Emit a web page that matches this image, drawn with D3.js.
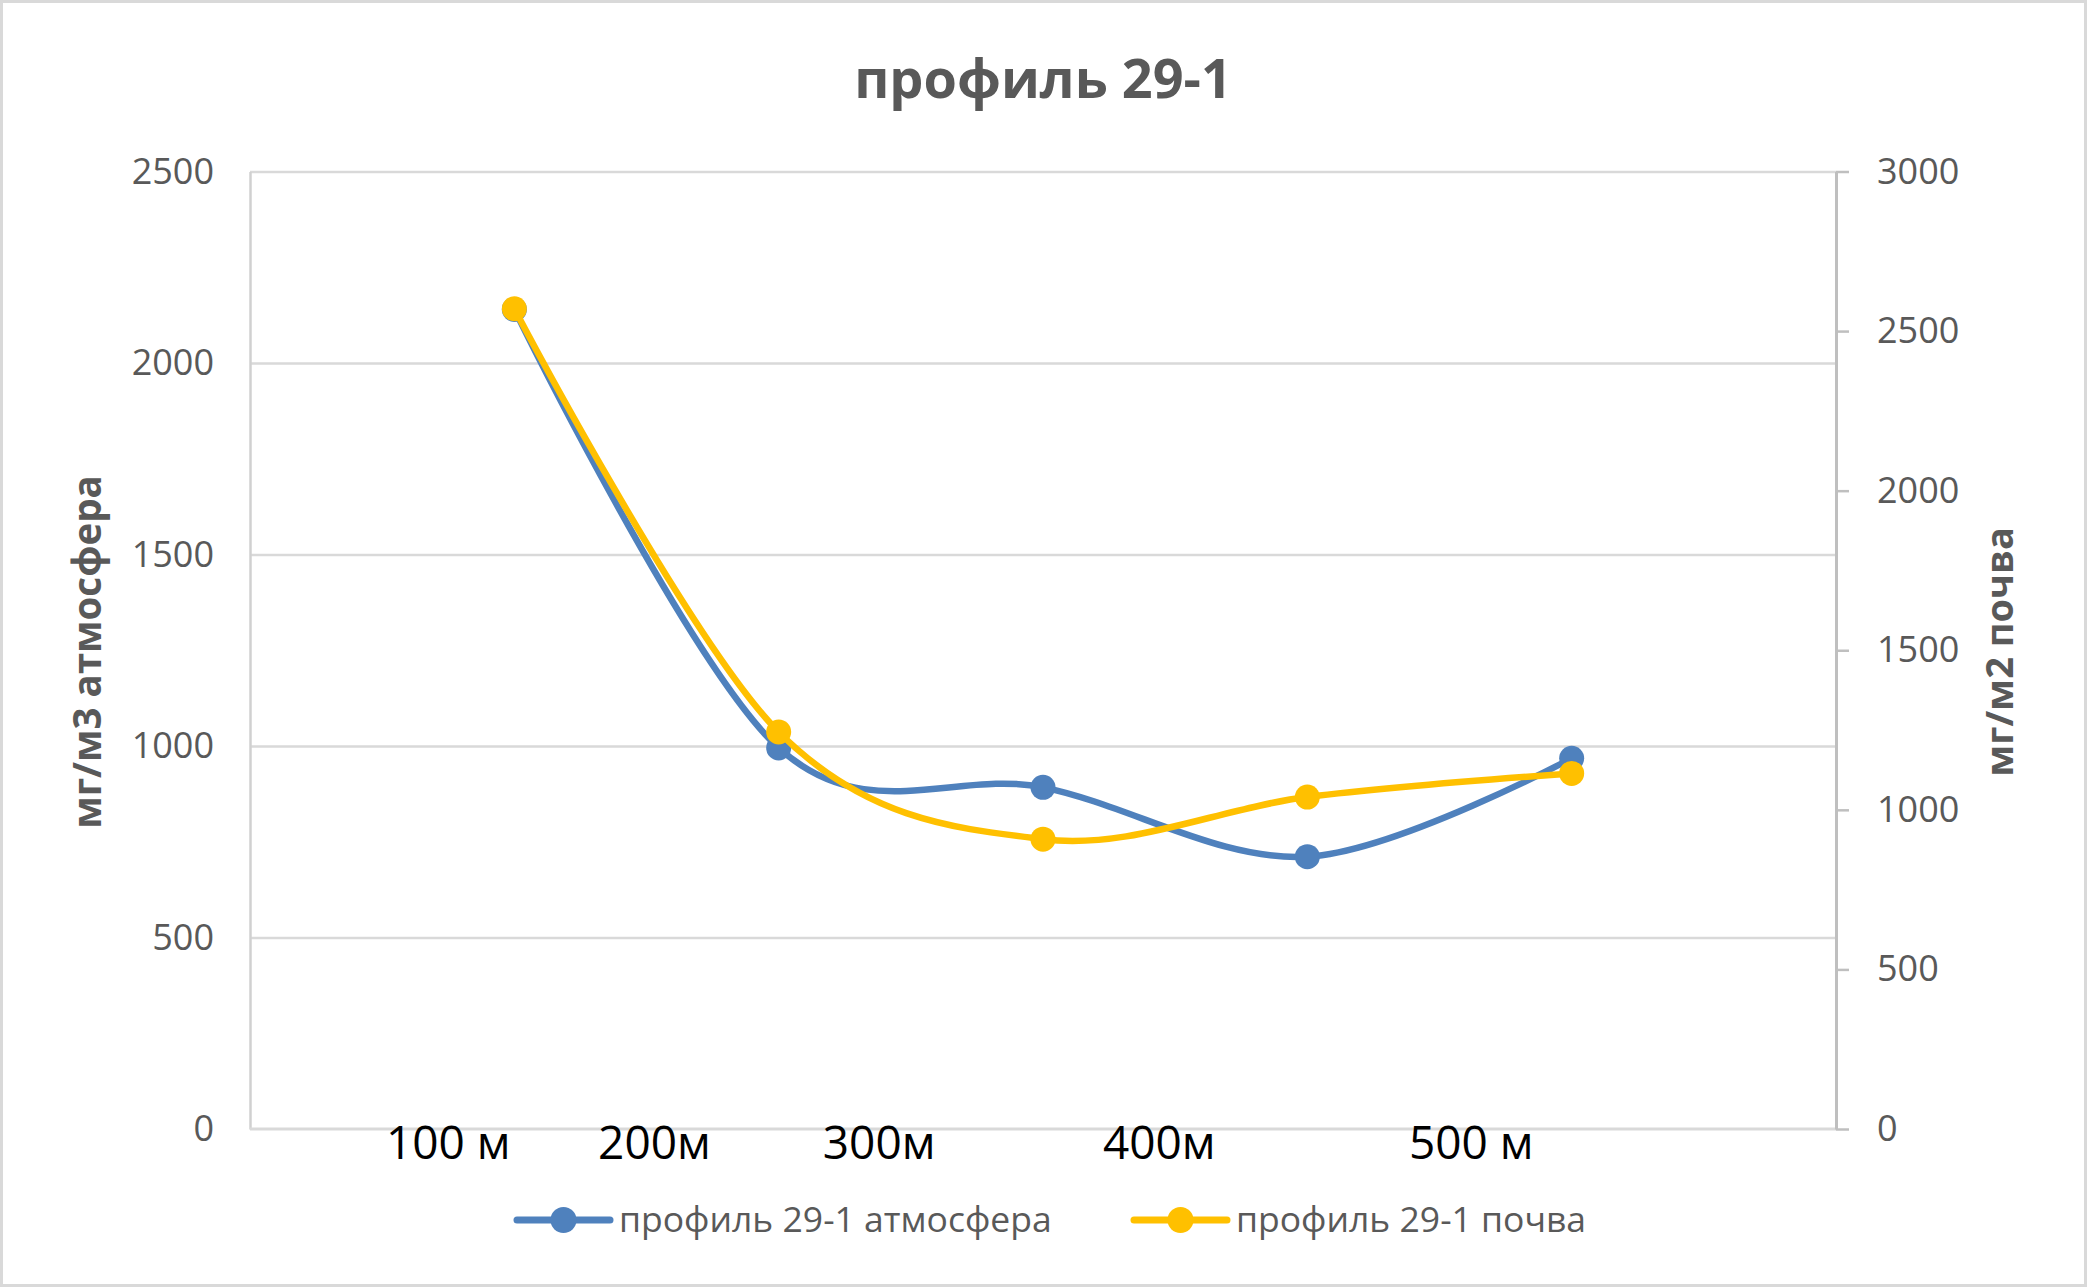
<!DOCTYPE html>
<html>
<head>
<meta charset="utf-8">
<script src="https://cdn.jsdelivr.net/npm/d3@7"></script>
<style>
  html, body { margin: 0; padding: 0; background: #fff; }
  svg { display: block; }
</style>
</head>
<body>
<svg id="chart" width="2087" height="1287"></svg>
<script>
// ---- data ----
const title = "профиль 29-1";
const categories = ["100 м", "200м", "300м", "400м", "500 м"];
const labelPos = [0.75, 1.53, 2.38, 3.44, 4.62];   // where the distance labels sit on the category scale
const pointPos = [1, 2, 3, 4, 5];                   // category positions of the measurements
const atmosphere = [2140, 995, 892, 711, 968];      // мг/м3 (left axis)
const soil = [2570, 1244, 908, 1040, 1114];         // мг/м2 (right axis)
const leftTicks = [0, 500, 1000, 1500, 2000, 2500];
const rightTicks = [0, 500, 1000, 1500, 2000, 2500, 3000];
const seriesNames = ["профиль 29-1 атмосфера", "профиль 29-1 почва"];
const leftTitle = "мг/м3 атмосфера";
const rightTitle = "мг/м2 почва";

// ---- layout ----
const W = 2087, H = 1287;
const plot = { left: 250, right: 1836, top: 171.5, bottom: 1129 };
const blue = "#4F81BD", yellow = "#FFC000", textGray = "#595959";
const font = "'Open Sans', 'Liberation Sans', sans-serif";
const fmt = d3.format("d");

const svg = d3.select("#chart");
svg.append("rect").attr("x", 1.5).attr("y", 1.5).attr("width", W - 3).attr("height", H - 3)
  .attr("fill", "#fff").attr("stroke", "#D9D9D9").attr("stroke-width", 3);

const x = d3.scaleLinear().domain([0, 6]).range([plot.left, plot.right]);
const yL = d3.scaleLinear().domain([0, 2500]).range([plot.bottom, plot.top]);
const yR = d3.scaleLinear().domain([0, 3000]).range([plot.bottom, plot.top]);

// gridlines
const grid = svg.append("g").attr("transform", `translate(${plot.left},0)`)
  .call(d3.axisLeft(yL).tickValues(leftTicks.slice(1)).tickSize(-(plot.right - plot.left)).tickFormat(""));
grid.select(".domain").remove();
grid.selectAll("line").attr("stroke", "#D9D9D9").attr("stroke-width", 2.5);

// left axis line + labels
const gL = svg.append("g").attr("transform", `translate(${plot.left},0)`)
  .call(d3.axisLeft(yL).tickValues(leftTicks).tickSize(0).tickPadding(36).tickFormat(fmt));
gL.select(".domain").attr("stroke", "#D0D0D0").attr("stroke-width", 2.5);
gL.selectAll("text").attr("font-family", font).attr("font-size", 36).attr("fill", textGray);

// bottom axis line
svg.append("line").attr("x1", plot.left).attr("x2", plot.right)
  .attr("y1", plot.bottom).attr("y2", plot.bottom)
  .attr("stroke", "#D9D9D9").attr("stroke-width", 3);

// right axis
const gR = svg.append("g").attr("transform", `translate(${plot.right},0)`)
  .call(d3.axisRight(yR).tickValues(rightTicks).tickSize(13).tickPadding(28).tickSizeOuter(0).tickFormat(fmt));
gR.select(".domain").attr("stroke", "#BFBFBF").attr("stroke-width", 3);
gR.selectAll("line").attr("stroke", "#BFBFBF").attr("stroke-width", 2.5);
gR.selectAll("text").attr("font-family", font).attr("font-size", 36).attr("fill", textGray);

// category labels
svg.append("g").selectAll("text").data(categories).join("text")
  .attr("x", (d, i) => x(labelPos[i])).attr("y", 1159)
  .attr("text-anchor", "middle").attr("font-family", font).attr("font-size", 46)
  .attr("fill", "#000").text(d => d);

// series
const curve = d3.curveCardinal.tension(0);
const series = [
  { name: seriesNames[0], values: atmosphere, y: yL, color: blue },
  { name: seriesNames[1], values: soil, y: yR, color: yellow }
];
series.forEach(s => {
  const line = d3.line().x((d, i) => x(pointPos[i])).y(d => s.y(d)).curve(curve);
  svg.append("path").datum(s.values).attr("d", line)
    .attr("fill", "none").attr("stroke", s.color).attr("stroke-width", 6.5)
    .attr("stroke-linecap", "round");
  svg.append("g").selectAll("circle").data(s.values).join("circle")
    .attr("cx", (d, i) => x(pointPos[i])).attr("cy", d => s.y(d)).attr("r", 12.5)
    .attr("fill", s.color);
});

// title
svg.append("text").attr("x", 1043).attr("y", 98).attr("text-anchor", "middle")
  .attr("font-family", font).attr("font-weight", "bold").attr("font-size", 54)
  .attr("fill", textGray).text(title);

// axis titles
svg.append("text").attr("transform", "translate(101,652) rotate(-90)")
  .attr("text-anchor", "middle").attr("font-family", font).attr("font-weight", "bold")
  .attr("font-size", 38.5).attr("fill", textGray).text(leftTitle);
svg.append("text").attr("transform", "translate(2013,652) rotate(-90)")
  .attr("text-anchor", "middle").attr("font-family", font).attr("font-weight", "bold")
  .attr("font-size", 38).attr("fill", textGray).text(rightTitle);

// legend
const legendItems = [
  { name: seriesNames[0], color: blue, x0: 517 },
  { name: seriesNames[1], color: yellow, x0: 1134 }
];
const lg = svg.append("g");
legendItems.forEach(it => {
  lg.append("line").attr("x1", it.x0).attr("x2", it.x0 + 93).attr("y1", 1220).attr("y2", 1220)
    .attr("stroke", it.color).attr("stroke-width", 7).attr("stroke-linecap", "round");
  lg.append("circle").attr("cx", it.x0 + 46.5).attr("cy", 1220).attr("r", 13).attr("fill", it.color);
  lg.append("text").attr("x", it.x0 + 102).attr("y", 1232).attr("font-family", font)
    .attr("font-size", 35.5).attr("fill", textGray).text(it.name);
});
</script>
</body>
</html>
